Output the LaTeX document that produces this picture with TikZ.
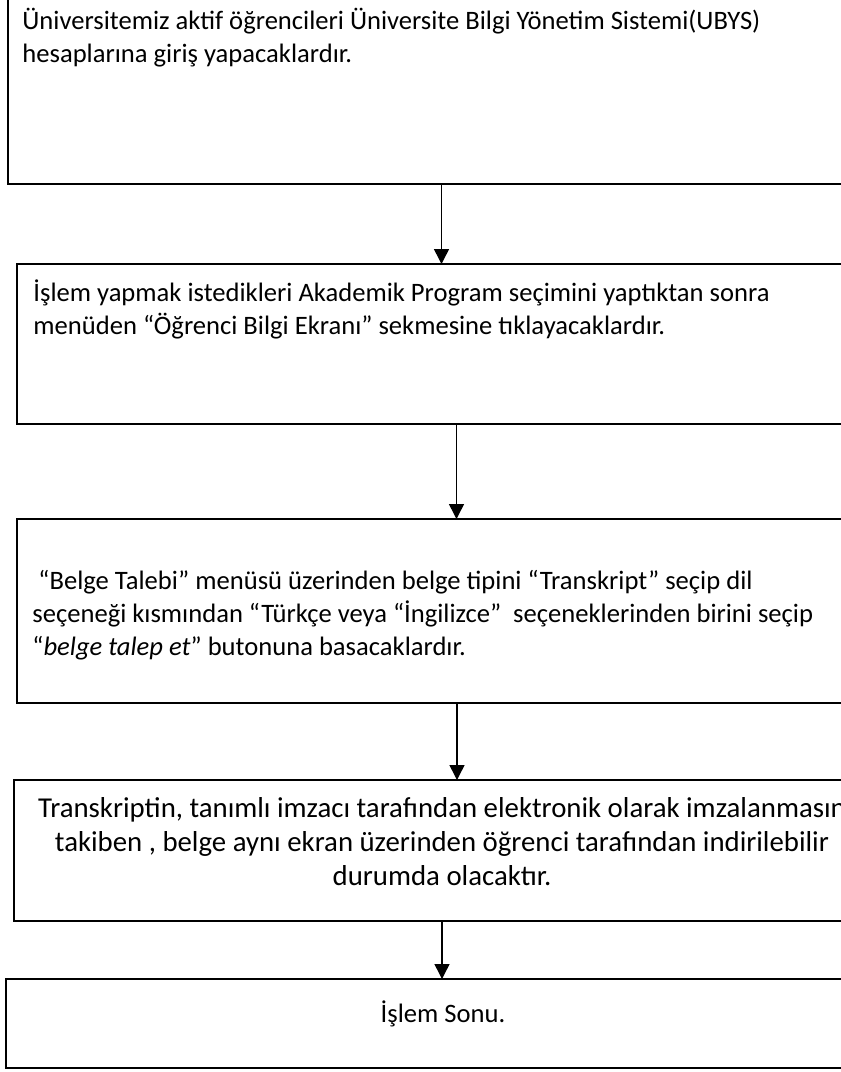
\documentclass[tikz,border=0pt]{standalone}
\usepackage{fontspec}
\setmainfont{Carlito}
\usetikzlibrary{arrows.meta}

\begin{document}
\begin{tikzpicture}[x=0.5pt, y=-0.5pt,
    stepbox/.style={draw=black, line width=0.9pt, inner sep=0pt, outer sep=0pt, anchor=north west},
    steptext/.style={inner sep=0pt, align=left, anchor=base west, font=\fontsize{13.3pt}{16.5pt}\selectfont},
    midtext/.style={steptext, align=center, anchor=base},
    flow/.style={draw=black, line width=0.75pt, -{Triangle[width=7.5pt,length=7.5pt]}}]
    \path[use as bounding box, clip] (0,0) rectangle (841,1072);

    \node[stepbox, minimum width=433.5pt, minimum height=97pt] (b1) at (8,-10) {};
    \node[stepbox, minimum width=439.5pt, minimum height=80pt] (b2) at (17,264) {};
    \node[stepbox, minimum width=440pt, minimum height=92pt] (b3) at (17,519) {};
    \node[stepbox, minimum width=428pt, minimum height=70.5pt] (b4) at (14,780) {};
    \node[stepbox, minimum width=437pt, minimum height=44.5pt] (b5) at (6,979) {};

    \node[steptext] (t1) at (22,62) {Üniversitemiz aktif öğrencileri Üniversite Bilgi Yönetim Sistemi(UBYS)\\hesaplarına giriş yapacaklardır.};
    \node[steptext] (t2) at (33,334) {İşlem yapmak istedikleri Akademik Program seçimini yaptıktan sonra\\menüden “Öğrenci Bilgi Ekranı” sekmesine tıklayacaklardır.};
    \node[steptext] (t3) at (32,655) {\ “Belge Talebi” menüsü üzerinden belge tipini “Transkript” seçip dil\\seçeneği kısmından “Türkçe veya “İngilizce”\ \ seçeneklerinden birini seçip\\“\textit{belge talep et}” butonuna basacaklardır.};
    \node[midtext, font=\fontsize{14.4pt}{17pt}\selectfont] (t4) at (442,885) {Transkriptin, tanımlı imzacı tarafından elektronik olarak imzalanmasın\\takiben , belge aynı ekran üzerinden öğrenci tarafından indirilebilir\\durumda olacaktır.};
    \node[midtext] (t5) at (443,1022) {İşlem Sonu.};

    \foreach \a/\b in {b1/b2, b2/b3, b3/b4, b4/b5}
        \draw[flow] (\a.south) -- (\a.south |- \b.north);
\end{tikzpicture}
\end{document}
